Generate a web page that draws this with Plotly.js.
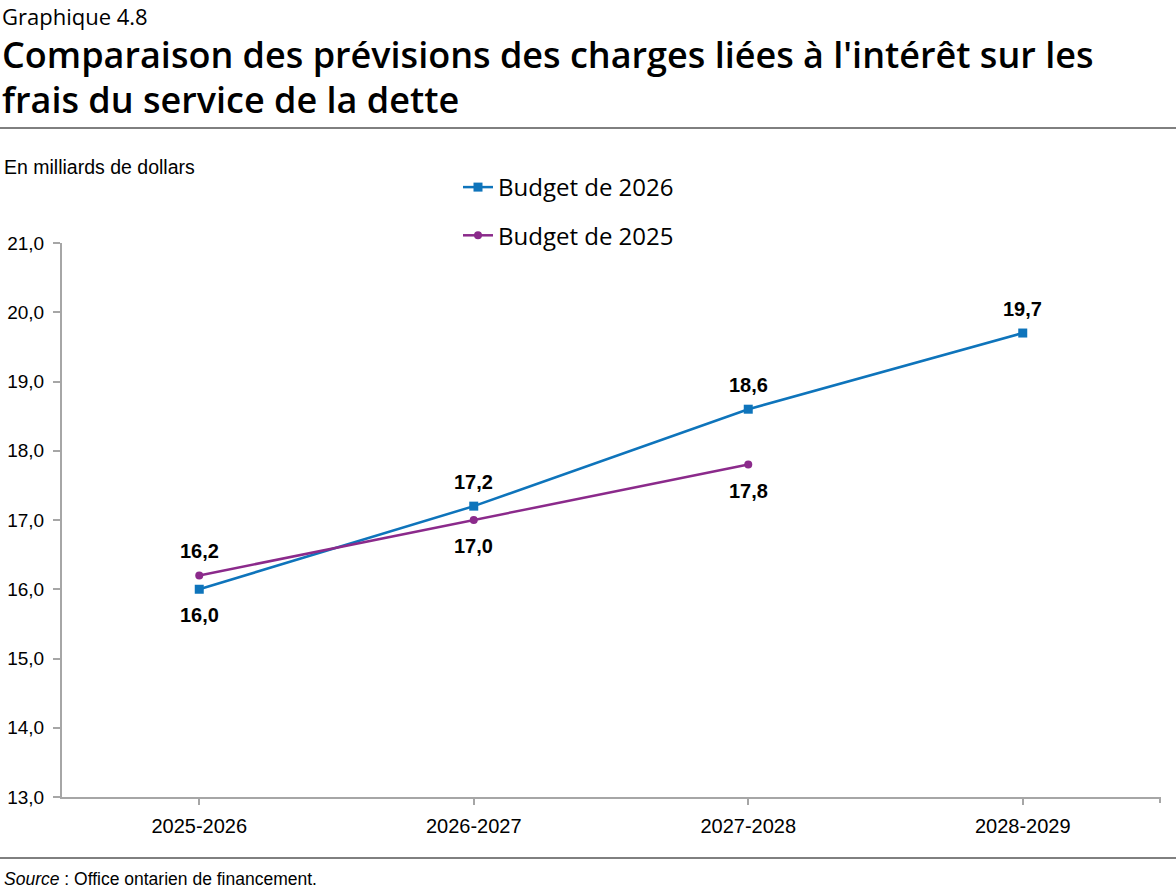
<!DOCTYPE html>
<html><head><meta charset="utf-8">
<script src="https://cdn.plot.ly/plotly-3.0.1.min.js"></script>
<style>body{margin:0;background:#fff}#chart{width:1176px;height:888px}</style>
</head><body><div id="chart"></div>
<script>
const categories = ['2025-2026','2026-2027','2027-2028','2028-2029'];
const budget2026 = [16.0, 17.2, 18.6, 19.7];
const budget2025 = [16.2, 17.0, 17.8];
const labelPos2026 = ['below','above','above','above'];
const labelPos2025 = ['above','below','below'];
const yTicks = [13,14,15,16,17,18,19,20,21];

const blue = '#0e74bb', purple = '#8b2a8b';
const narrow = '"Liberation Sans Narrow", "Liberation Sans", Arial, sans-serif';
const titleFont = '"Open Sans", Lato, sans-serif';

const H = 888, plotTop = 243, plotBottom = 797, ph = plotBottom - plotTop;
const py = px => (plotBottom - px) / ph;

const fmt = v => v.toFixed(1).replace('.', ',');

const traces = [
  {x: categories, y: budget2026, name: 'Budget de 2026', type: 'scatter', mode: 'lines+markers',
   line: {color: blue, width: 2.5}, marker: {symbol: 'square', size: 9, color: blue}, legendgroup: 'a'},
  {x: categories.slice(0, budget2025.length), y: budget2025, name: 'Budget de 2025', type: 'scatter', mode: 'lines+markers',
   line: {color: purple, width: 2.5}, marker: {symbol: 'circle', size: 8, color: purple}, legendgroup: 'b'}
];

const ann = [];
function addLabels(xs, ys, pos) {
  ys.forEach((v, i) => ann.push({x: xs[i], y: v, xref: 'x', yref: 'y', text: '<b>' + fmt(v) + '</b>',
    showarrow: false, yshift: pos[i] === 'above' ? 24 : -26,
    font: {family: narrow, size: 20, color: '#000'}}));
}
addLabels(categories, budget2026, labelPos2026);
addLabels(categories, budget2025, labelPos2025);

ann.push({xref: 'paper', yref: 'paper', x: -62/1098, y: py(16), xanchor: 'left', yanchor: 'middle',
  text: 'Graphique 4.8', showarrow: false, font: {family: titleFont, size: 22, color: '#000'}});
ann.push({xref: 'paper', yref: 'paper', x: -62/1098, y: py(54), xanchor: 'left', yanchor: 'middle',
  text: "Comparaison des prévisions des charges liées à l'intérêt sur les", showarrow: false,
  font: {family: titleFont, size: 36, color: '#000', weight: 600}});
ann.push({xref: 'paper', yref: 'paper', x: -62/1098, y: py(99), xanchor: 'left', yanchor: 'middle',
  text: 'frais du service de la dette', showarrow: false,
  font: {family: titleFont, size: 36, color: '#000', weight: 600}});
ann.push({xref: 'paper', yref: 'paper', x: -60/1098, y: py(167), xanchor: 'left', yanchor: 'middle',
  text: 'En milliards de dollars', showarrow: false, font: {family: narrow, size: 19.5, color: '#000'}});
ann.push({xref: 'paper', yref: 'paper', x: -60/1098, y: py(879), xanchor: 'left', yanchor: 'middle',
  text: '<i>Source</i> : Office ontarien de financement.', showarrow: false, font: {family: narrow, size: 17.5, color: '#000'}});

const shapes = [
  {type: 'line', xref: 'paper', yref: 'paper', x0: -62/1098, x1: 1114/1098, y0: py(128), y1: py(128), line: {color: '#000', width: 1}},
  {type: 'line', xref: 'paper', yref: 'paper', x0: -62/1098, x1: 1114/1098, y0: py(858), y1: py(858), line: {color: '#000', width: 1}},
  {type: 'line', xref: 'paper', yref: 'paper', x0: 1, x1: 1, y0: 0, y1: -6/ph, line: {color: '#a6a6a6', width: 2}}
];

const layout = {
  width: 1176, height: 888, margin: {l: 62, r: 16, t: plotTop, b: H - plotBottom},
  paper_bgcolor: '#fff', plot_bgcolor: '#fff', separators: ', ',
  showlegend: true,
  legend: {x: (458-62)/1098, y: py(165), xanchor: 'left', yanchor: 'top', tracegroupgap: 14,
    font: {family: titleFont, size: 24, color: '#000'}, bgcolor: 'rgba(0,0,0,0)', itemwidth: 30},
  xaxis: {type: 'category', range: [-0.5, 3.5], showgrid: false, zeroline: false,
    showline: true, linecolor: '#a6a6a6', linewidth: 2, ticks: 'outside', ticklen: 6, tickcolor: '#a6a6a6', tickwidth: 2,
    tickfont: {family: narrow, size: 20, color: '#000'}, ticklabelstandoff: 4, fixedrange: true},
  yaxis: {range: [13, 21], tickvals: yTicks, ticktext: yTicks.map(fmt), showgrid: false, zeroline: false,
    showline: true, linecolor: '#a6a6a6', linewidth: 2, ticks: 'outside', ticklen: 7, tickcolor: '#a6a6a6', tickwidth: 2,
    tickfont: {family: narrow, size: 19, color: '#000'}, ticklabelstandoff: 5, fixedrange: true},
  annotations: ann, shapes: shapes
};
Plotly.newPlot('chart', traces, layout, {displayModeBar: false, staticPlot: true});
</script></body></html>
